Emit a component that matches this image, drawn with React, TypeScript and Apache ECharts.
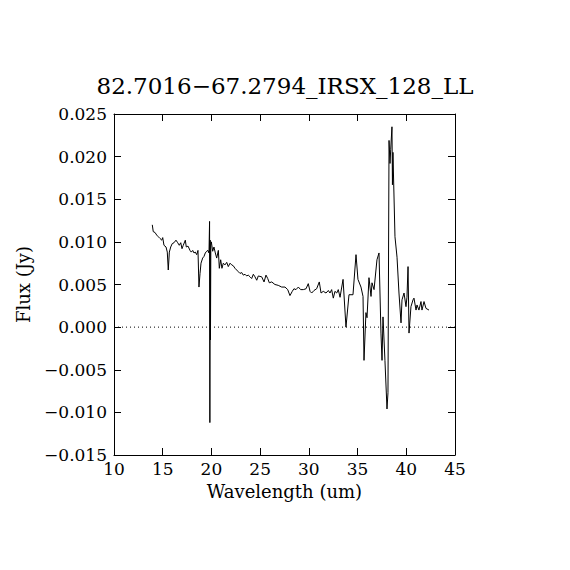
import React, { useEffect, useRef } from "react";
import * as echarts from "echarts";

const TITLE = "82.7016\u221267.2794_IRSX_128_LL";
const X_NAME = "Wavelength (um)";
const Y_NAME = "Flux (Jy)";

const wavelength: number[] = [
  13.93, 14.03, 14.21, 14.38, 14.55, 14.72, 14.9, 15.0, 15.13, 15.34, 15.47, 15.57, 15.68, 15.82, 15.98,
  16.16, 16.36, 16.54, 16.7, 16.85, 16.98, 17.11, 17.32, 17.42, 17.6, 17.8, 17.93, 18.08, 18.21, 18.34,
  18.49, 18.62, 18.72, 18.83, 18.93, 19.1, 19.24, 19.37, 19.51, 19.65, 19.75, 19.81, 19.84, 19.87, 19.9,
  19.94, 19.99, 20.13, 20.26, 20.4, 20.54, 20.71, 20.81, 20.95, 21.08, 21.22, 21.39, 21.57, 21.73, 21.91,
  22.08, 22.24, 22.42, 22.59, 22.76, 22.93, 23.11, 23.27, 23.45, 23.62, 23.78, 23.96, 24.13, 24.3, 24.47,
  24.65, 24.81, 25.16, 25.4, 25.6, 25.78, 25.94, 26.19, 26.52, 26.86, 27.21, 27.55, 27.83, 28.06, 28.3,
  28.47, 28.68, 28.92, 29.16, 29.43, 29.71, 29.94, 30.12, 30.29, 30.53, 30.8, 31.07, 31.25, 31.48, 31.76,
  32.0, 32.17, 32.34, 32.51, 32.68, 32.86, 33.02, 33.2, 33.51, 33.81, 34.12, 34.53, 34.84, 35.04, 35.35,
  35.56, 35.66, 35.86, 35.97, 36.17, 36.38, 36.48, 36.69, 36.99, 37.2, 37.4, 37.51, 37.61, 37.81, 38.02,
  38.12, 38.23, 38.33, 38.4, 38.53, 38.58, 38.63, 38.84, 39.05, 39.25, 39.46, 39.56, 39.77, 39.97, 40.07,
  40.18, 40.28, 40.48, 40.69, 40.79, 41.0, 41.1, 41.3, 41.51, 41.61, 41.82, 42.02, 42.33,
];

const flux: number[] = [
  0.012, 0.0112, 0.0111, 0.0108, 0.0106, 0.0104, 0.0102, 0.0105, 0.0096, 0.0094, 0.0088, 0.0067, 0.0088, 0.0094, 0.0098,
  0.0099, 0.0102, 0.0099, 0.0096, 0.0099, 0.0092, 0.0096, 0.0102, 0.0094, 0.0095, 0.009, 0.0088, 0.009, 0.0087, 0.0088,
  0.0085, 0.009, 0.0047, 0.0063, 0.0075, 0.0081, 0.0083, 0.0087, 0.0089, 0.009, 0.0087, 0.0124, -0.0112, 0.0102, -0.0015,
  0.0096, 0.01, 0.0089, 0.0094, 0.0087, 0.0081, 0.009, 0.0069, 0.0079, 0.0069, 0.0075, 0.0073, 0.0076, 0.0071, 0.0075,
  0.0073, 0.0072, 0.0069, 0.0067, 0.0065, 0.0063, 0.0064, 0.0061, 0.0062, 0.006, 0.0061, 0.0059, 0.0057, 0.0062, 0.0059,
  0.0055, 0.006, 0.0059, 0.0053, 0.0061, 0.0057, 0.0052, 0.0053, 0.005, 0.0049, 0.0047, 0.0047, 0.0044, 0.0037, 0.0042,
  0.0045, 0.0044, 0.0047, 0.0044, 0.0044, 0.0045, 0.0051, 0.0042, 0.004, 0.0043, 0.0045, 0.0053, 0.004, 0.0042, 0.004,
  0.0043, 0.004, 0.0044, 0.0034, 0.0042, 0.004, 0.0044, 0.0035, 0.0056, 0.0, 0.0038, 0.0038, 0.0085, 0.0056, 0.0047,
  0.0036, -0.0039, 0.0017, 0.0011, 0.0058, 0.0036, 0.0052, 0.0044, 0.0079, 0.0087, -0.0007, -0.0039, 0.0012, -0.0039, -0.0096,
  -0.0077, 0.0219, 0.0192, 0.0208, 0.0235, 0.0167, 0.0205, 0.0106, 0.0082, 0.004, 0.0005, 0.0032, 0.004, 0.0024, 0.0035,
  0.0071, -0.0007, 0.0024, 0.0032, 0.0034, 0.002, 0.0026, 0.002, 0.003, 0.002, 0.003, 0.0022, 0.002,
];

const X_MIN = 10;
const X_MAX = 45;
const X_STEP = 5;
const Y_MIN = -0.015;
const Y_MAX = 0.025;
const Y_STEP = 0.005;
const ZERO_LINE = [[X_MIN, 0], [X_MAX, 0]];

const FONT = "DejaVu Serif";

export default function App() {
  const ref = useRef<HTMLDivElement>(null);
  useEffect(() => {
    if (!ref.current) return;
    const chart = echarts.init(ref.current, null, { renderer: "svg" });
    const axisLine = { show: true, onZero: false, lineStyle: { color: "#000", width: 1 } };
    const fmtY = (v: number) => {
      const s = Math.abs(v) < 1e-9 ? "0.000" : v.toFixed(3);
      return s.replace("-", "\u2212");
    };
    chart.setOption({
      animation: false,
      backgroundColor: "#fff",
      title: {
        text: TITLE,
        left: "center",
        top: 69,
        textStyle: { fontFamily: FONT, fontSize: 23, fontWeight: "normal", color: "#000" },
      },
      grid: { left: 114, top: 114, width: 341, height: 341, containLabel: false },
      xAxis: [
        {
          type: "value",
          min: X_MIN,
          max: X_MAX,
          interval: X_STEP,
          position: "bottom",
          name: X_NAME,
          nameLocation: "middle",
          nameGap: 27,
          nameTextStyle: { fontFamily: FONT, fontSize: 18, color: "#000" },
          axisLine,
          axisTick: { show: true, inside: true, length: 7, lineStyle: { color: "#000" } },
          axisLabel: { fontFamily: FONT, fontSize: 17, color: "#000", margin: 5 },
          splitLine: { show: false },
        },
        {
          type: "value",
          min: X_MIN,
          max: X_MAX,
          interval: X_STEP,
          position: "top",
          axisLine,
          axisTick: { show: true, inside: true, length: 7, lineStyle: { color: "#000" } },
          axisLabel: { show: false },
          splitLine: { show: false },
        },
      ],
      yAxis: [
        {
          type: "value",
          min: Y_MIN,
          max: Y_MAX,
          interval: Y_STEP,
          position: "left",
          name: Y_NAME,
          nameLocation: "middle",
          nameGap: 82,
          nameRotate: 90,
          nameTextStyle: { fontFamily: FONT, fontSize: 18, color: "#000" },
          axisLine,
          axisTick: { show: true, inside: true, length: 7, lineStyle: { color: "#000" } },
          axisLabel: { fontFamily: FONT, fontSize: 17, color: "#000", margin: 7, formatter: fmtY },
          splitLine: { show: false },
        },
        {
          type: "value",
          min: Y_MIN,
          max: Y_MAX,
          interval: Y_STEP,
          position: "right",
          axisLine,
          axisTick: { show: true, inside: true, length: 7, lineStyle: { color: "#000" } },
          axisLabel: { show: false },
          splitLine: { show: false },
        },
      ],
      series: [
        {
          type: "line",
          data: ZERO_LINE,
          symbol: "none",
          silent: true,
          lineStyle: { color: "#000", width: 1, type: [1, 3] },
        },
        {
          type: "line",
          data: wavelength.map((w, i) => [w, flux[i]]),
          symbol: "none",
          silent: true,
          lineStyle: { color: "#000", width: 1 },
        },
      ],
    });
    return () => chart.dispose();
  }, []);
  return (
    <div
      ref={ref}
      style={{ position: "absolute", left: 0, top: 0, width: 570, height: 570, background: "#fff" }}
    />
  );
}
